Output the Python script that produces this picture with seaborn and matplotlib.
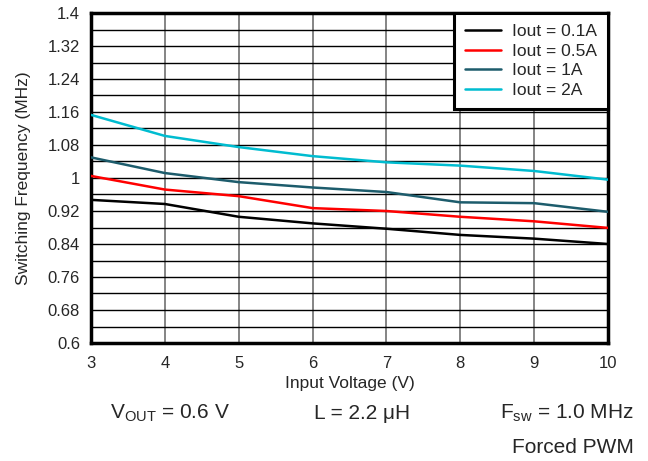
import matplotlib
matplotlib.use("Agg")
import matplotlib.pyplot as plt
import seaborn as sns
import pandas as pd
import numpy as np
from matplotlib.ticker import MultipleLocator

vin = [3, 4, 5, 6, 7, 8, 9, 10]
f_01A = [0.947, 0.937, 0.906, 0.890, 0.877, 0.862, 0.853, 0.840]
f_05A = [1.005, 0.972, 0.956, 0.927, 0.920, 0.906, 0.895, 0.879]
f_1A = [1.050, 1.012, 0.990, 0.977, 0.966, 0.941, 0.939, 0.918]
f_2A = [1.153, 1.102, 1.075, 1.053, 1.038, 1.030, 1.017, 0.996]
labels = ["Iout = 0.1A", "Iout = 0.5A", "Iout = 1A", "Iout = 2A"]
colors = ["#000000", "#FF0000", "#1D5C6C", "#00BCD0"]
yticks = [0.6, 0.68, 0.76, 0.84, 0.92, 1.0, 1.08, 1.16, 1.24, 1.32, 1.4]
ytick_labels = ["0.6", "0.68", "0.76", "0.84", "0.92", "1", "1.08", "1.16", "1.24", "1.32", "1.4"]

rows = []
for lab, ys in zip(labels, [f_01A, f_05A, f_1A, f_2A]):
    for x, y in zip(vin, ys):
        rows.append({"Vin": x, "Freq": y, "Iout": lab})
df = pd.DataFrame(rows)

sns.set_style("white")
plt.rcParams["font.family"] = ["Liberation Sans", "DejaVu Sans"]
plt.rcParams["mathtext.fontset"] = "custom"
plt.rcParams["mathtext.rm"] = "Liberation Sans"
plt.rcParams["mathtext.it"] = "Liberation Sans:italic"

fig = plt.figure(figsize=(6.48, 4.61), dpi=100)
ax = fig.add_axes([91 / 648, 118 / 461, (608 - 91) / 648, (343 - 13) / 461])

sns.lineplot(data=df, x="Vin", y="Freq", hue="Iout", palette=colors,
             linewidth=1.8, ax=ax, zorder=3)

ax.set_xlim(3, 10)
ax.set_ylim(0.6, 1.4)
ax.set_xticks(vin)
ax.set_yticks(yticks)
ax.set_yticklabels(ytick_labels)
ax.yaxis.set_minor_locator(MultipleLocator(0.04))
ax.tick_params(axis="both", which="both", length=0, labelsize=12)
ax.tick_params(axis="y", pad=8)
ax.tick_params(axis="x", pad=9)
ax.grid(True, axis="x", which="major", color="#707070", linewidth=1.2)
ax.grid(True, axis="y", which="both", color="#000000", linewidth=1.0)
ax.set_axisbelow(True)
for s in ax.spines.values():
    s.set_linewidth(2.5)
    s.set_color("black")

ax.set_xlabel("Input Voltage (V)", fontsize=12.5, labelpad=4)
ax.set_ylabel("Switching Frequency (MHz)", fontsize=12.5, labelpad=12)

leg = ax.legend(loc="upper right", borderaxespad=0, fontsize=12.5,
                frameon=True, fancybox=False, handlelength=2.1,
                labelspacing=0.25, borderpad=0.65, handletextpad=0.6)
leg.get_frame().set_edgecolor("black")
leg.get_frame().set_linewidth(2.2)
leg.get_frame().set_alpha(1)
leg.set_zorder(10)

fig.text(170 / 648, 1 - 413 / 461, r"V$_{\mathrm{OUT}}$ = 0.6 V", fontsize=15, ha="center", va="center")
fig.text(362 / 648, 1 - 413 / 461, r"L = 2.2 μH", fontsize=15, ha="center", va="center")
fig.text(634 / 648, 1 - 413 / 461, r"F$_{\mathrm{sw}}$ = 1.0 MHz", fontsize=15, ha="right", va="center")
fig.text(634 / 648, 1 - 447 / 461, "Forced PWM", fontsize=15, ha="right", va="center")

fig.savefig("out.png", dpi=100)
